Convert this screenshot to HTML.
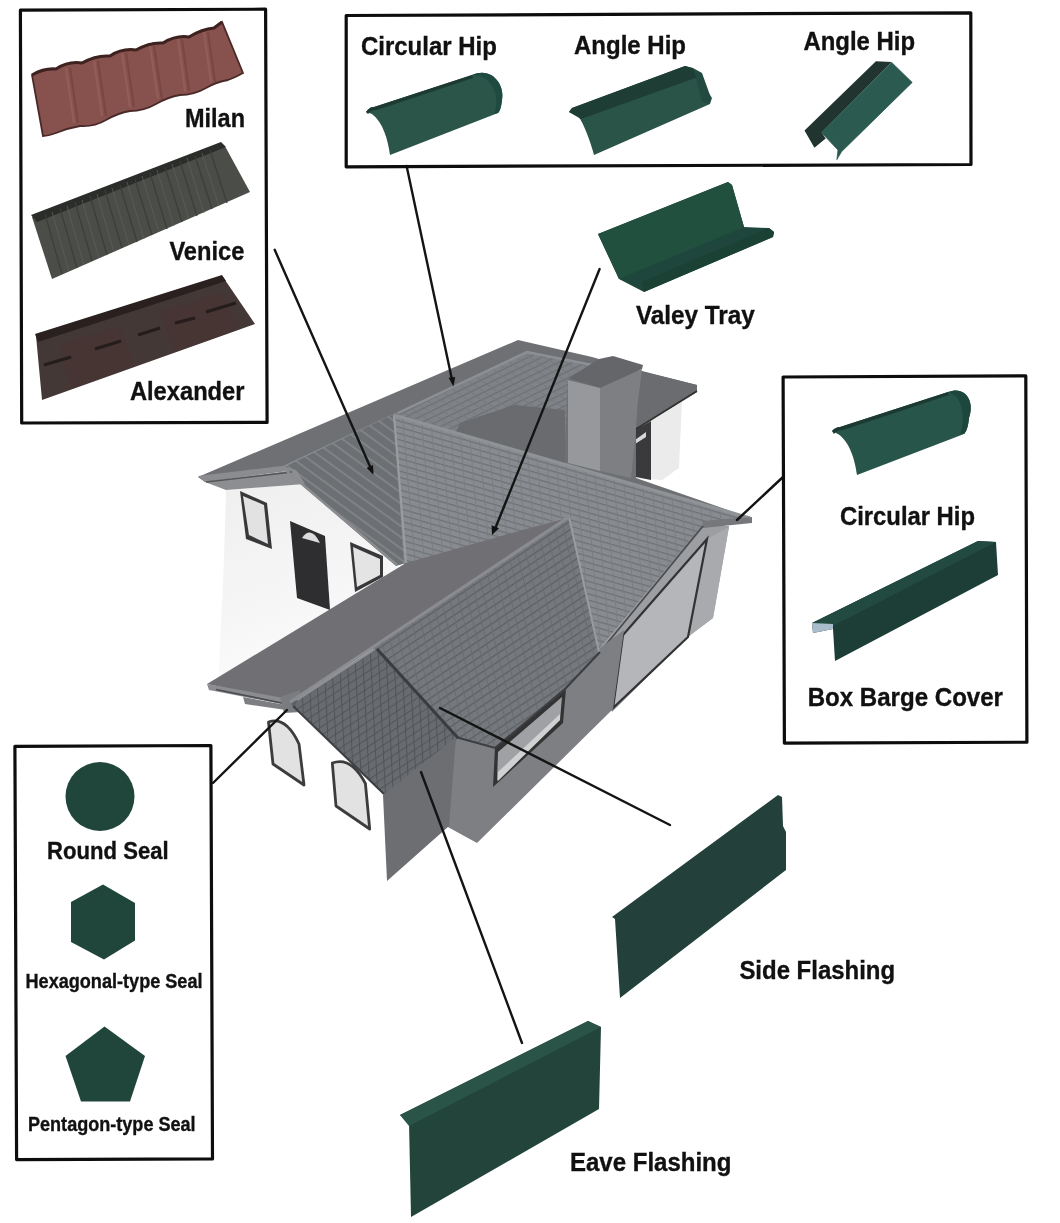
<!DOCTYPE html>
<html><head><meta charset="utf-8">
<style>
html,body{margin:0;padding:0;background:#fff;}
body{width:1060px;height:1223px;overflow:hidden;}
svg{display:block;filter:blur(0.6px);}
text{font-family:"Liberation Sans",sans-serif;font-weight:bold;fill:#111;stroke:#111;stroke-width:0.35px;}
</style></head><body>
<svg width="1060" height="1223" viewBox="0 0 1060 1223">
<rect x="0" y="0" width="1060" height="1223" fill="#ffffff"/>
<!-- HOUSE -->
<g id="house">
<defs>
<pattern id="meshA" width="10" height="6" patternUnits="userSpaceOnUse" patternTransform="rotate(16) skewX(21)">
<rect width="10" height="6" fill="#888b8f"/>
<path d="M0,0.6 H10" stroke="#6e7175" stroke-width="1.3"/>
<path d="M0.5,0 V6" stroke="#7a7d81" stroke-width="1"/>
</pattern>
<pattern id="meshB" width="9" height="7" patternUnits="userSpaceOnUse" patternTransform="rotate(-33.6) skewX(-20)">
<rect width="9" height="7" fill="#75787c"/>
<path d="M0,0.6 H9" stroke="#5c5f63" stroke-width="1.3"/>
<path d="M0.5,0 V7" stroke="#686b6f" stroke-width="1"/>
</pattern>
<pattern id="meshC" width="9" height="7" patternUnits="userSpaceOnUse" patternTransform="rotate(-33) skewX(-30)">
<rect width="9" height="7" fill="#686b6f"/>
<path d="M0,0.6 H9" stroke="#55585c" stroke-width="1.2"/>
<path d="M0.5,0 V7" stroke="#505357" stroke-width="1.3"/>
</pattern>
<pattern id="stripeP1" width="8" height="9" patternUnits="userSpaceOnUse" patternTransform="rotate(36)">
<rect width="8" height="9" fill="#6d7073"/>
<path d="M0,1 H8" stroke="#7f8286" stroke-width="2"/>
</pattern>
<pattern id="meshR" width="9" height="6" patternUnits="userSpaceOnUse" patternTransform="rotate(-26) skewX(30)">
<rect width="9" height="6" fill="#7f8286"/>
<path d="M0,0.6 H9" stroke="#6a6d71" stroke-width="1.1"/>
<path d="M0.5,0 V6" stroke="#75787c" stroke-width="1"/>
</pattern>
</defs>
<!-- back right wing wall + doorway -->
<polygon points="634,427 697,392 682,401 679,468 662,480 634,478" fill="#ebebeb"/>
<polygon points="631,432 651,421 651,480 631,476" fill="#3a3a3c"/>
<polygon points="635,440 646,432 646,437 635,444" fill="#d8d8d8"/>
<!-- back roof mass -->
<polygon points="198,477 518,340 592,357 644,372 697,385 697,392 636,429 636,478 751,518 398,418 290,467 205,482" fill="#6e7074"/>
<!-- mesh region R -->
<polygon points="396,417 527,352 592,364 568,379 564,464" fill="url(#meshR)"/>
<polygon points="455,434 460,423 514,405 565,410 565,466" fill="#696b6f"/>
<!-- ridge cap line -->
<polyline points="282,468 527,352 592,365" fill="none" stroke="#8c8f93" stroke-width="2.5"/>
<!-- chimney -->
<polygon points="569,378 599,359 613,356 643,365 642,369 600,388" fill="#64666a"/>
<polygon points="568,380 600,388 600,471 568,463" fill="#96989c"/>
<polygon points="600,388 642,369 636,430 631,478 600,471" fill="#7d7f83"/>
<!-- right wing roof -->
<polygon points="642,371 697,385 697,392 636,429 638,400" fill="#6a6c70"/>
<line x1="697" y1="391" x2="636" y2="429" stroke="#333" stroke-width="1.8"/>
<!-- left wing wall -->
<linearGradient id="wallG" x1="0" y1="0" x2="0.3" y2="1"><stop offset="0" stop-color="#efefef"/><stop offset="0.6" stop-color="#f6f6f6"/><stop offset="1" stop-color="#fdfdfd"/></linearGradient>
<polygon points="226,490 305,484 402,570 402,610 260,700 218,690 224,560" fill="url(#wallG)"/>
<!-- left wing windows/door -->
<polygon points="240,491 267,503 272,549 246,539" fill="#38383a"/>
<polygon points="243,496 264,505 268,544 249,535" fill="#e2e2e2"/>
<polygon points="290,521 325,536 330,610 297,598" fill="#2e2e30"/>
<path d="M302,538 Q311,525 320,543 Z" fill="#dcdcdc"/>
<polygon points="350,542 383,556 383,577 355,592" fill="#38383a"/>
<polygon points="353,547 380,559 380,575 357,587" fill="#e4e4e4"/>
<!-- P1 -->
<polygon points="282,468 398,412 406,563 396,566" fill="url(#stripeP1)"/>
<!-- left eave fascia -->
<polygon points="198,476 282,466 296,470 205,482" fill="#8a8c90"/>
<polygon points="205,482 296,470 305,484 226,490" fill="#8c8e92"/>
<line x1="206" y1="482" x2="292" y2="472" stroke="#555" stroke-width="1.5"/>
<line x1="282" y1="467" x2="397" y2="565" stroke="#8a8c90" stroke-width="2.5"/>
<!-- big mesh plane P2/P3 -->
<polygon points="394,415 748,517 752,522 703,527 600,655 569,517 404,566" fill="url(#meshA)"/>
<line x1="394" y1="415" x2="406" y2="563" stroke="#9a9da0" stroke-width="2.2"/>
<line x1="394" y1="415" x2="750" y2="518" stroke="#909396" stroke-width="3"/>
<!-- garage wing walls -->
<polygon points="703,525 729,526 713,618 690,635 612,712 598,650" fill="#9c9ea1"/>
<polygon points="707,539 729,527 713,618 688,637" fill="#a8aaae"/>
<polygon points="623,635 707,539 688,637 613,708" fill="#b4b6ba" stroke="#333" stroke-width="2.2"/>
<polygon points="703,521 752,517 752,523 703,528" fill="#75777b"/>
<line x1="703" y1="526" x2="600" y2="652" stroke="#4a4c50" stroke-width="1.8"/>
<!-- main right wall -->
<polygon points="450,733 495,745 566,685 599,649 624,630 613,709 477,843 446,826" fill="#7d7f82"/>
<polygon points="495,747 566,689 563,723 493,787" fill="#333"/>
<polygon points="498,752 562,697 560,720 497,781" fill="#9fa1a4"/>
<polygon points="498,781 560,720 560,714 498,772" fill="#cfd1d3"/>
<!-- P4 -->
<polygon points="207,684 406,563 569,517 290,702" fill="#707074"/>
<polygon points="207,684 289,699 292,706 209,690" fill="#8a8c90"/>
<line x1="216" y1="689.5" x2="284" y2="703.5" stroke="#4a4c50" stroke-width="1.6"/>
<polygon points="243,697 286,705 286,710 245,704" fill="#7c7e82"/>
<polygon points="280,697 300,690 302,712 284,713" fill="#7a7c80"/>
<!-- P5 -->
<polygon points="569,517 600,652 566,689 495,748 452,736 372,648 288,703" fill="url(#meshB)"/>
<line x1="569" y1="517" x2="599" y2="652" stroke="#9a9da0" stroke-width="2"/>
<polyline points="452,736 495,748 566,688 600,652" fill="none" stroke="#3c3e42" stroke-width="2"/>
<line x1="290" y1="702" x2="569" y2="517" stroke="#8a8c90" stroke-width="3.2"/>
<!-- porch roof -->
<polygon points="291,704 377,648 458,738 384,795" fill="url(#meshC)"/>
<line x1="293" y1="706" x2="384" y2="794" stroke="#3e4044" stroke-width="2.2"/>
<line x1="377" y1="649" x2="458" y2="738" stroke="#3a3c40" stroke-width="3"/>
<line x1="297" y1="700" x2="375" y2="649" stroke="#8c8e92" stroke-width="2.5"/>
<!-- arched windows -->
<path d="M273,764 L268.5,722 Q286,716 299,744 L304,785 Z" fill="#e2e2e2" stroke="#3c3c3e" stroke-width="2.8" stroke-linejoin="round"/>
<path d="M336,806 L332.3,763 Q351,756 365.4,783.5 L369.7,829 Z" fill="#e2e2e2" stroke="#3c3c3e" stroke-width="2.8" stroke-linejoin="round"/>
<!-- porch walls -->
<polygon points="383,795 456,737 449,826 387,881" fill="#6c6e72"/>
</g>
<!-- LEADER LINES -->
<g stroke="#141414" stroke-width="2.4" fill="none" stroke-linecap="round">
<line x1="274.7" y1="249.8" x2="372" y2="471"/>
<line x1="406.6" y1="166" x2="452.5" y2="382"/>
<line x1="599.6" y1="269" x2="495" y2="529"/>
<line x1="783" y1="477" x2="737" y2="520"/>
<line x1="213" y1="783" x2="287" y2="710"/>
<line x1="421" y1="772" x2="522" y2="1043"/>
<line x1="440" y1="708" x2="670" y2="825"/>
</g>
<g fill="#111">
<polygon points="373.5,474.7 366.6,467.9 373.0,465.1"/>
<polygon points="453.5,386.5 448.6,377.8 455.2,376.9"/>
<polygon points="492,535 491.6,525.2 499.0,528.2"/>
</g>
<!-- BOXES -->
<g fill="none" stroke="#0d0d0d" stroke-width="3.2" stroke-linejoin="round">
<polygon points="20.4,10.2 265.6,9.2 267.1,422.4 21.7,423"/>
<polygon points="346.2,15.5 970.8,12.8 971,164.5 346.2,166.8"/>
<polygon points="783.1,377 1025.8,375.9 1026.9,742.2 784.4,743.1"/>
<polygon points="14.9,746.4 210.9,745.5 212.5,1158.9 16.6,1159.6"/>
</g>
<!-- LABELS -->
<g>
<text x="185" y="127.4" font-size="25" textLength="60" lengthAdjust="spacingAndGlyphs">Milan</text>
<text x="169.4" y="259.9" font-size="25" textLength="75" lengthAdjust="spacingAndGlyphs">Venice</text>
<text x="129.9" y="399.5" font-size="25" textLength="114.6" lengthAdjust="spacingAndGlyphs">Alexander</text>
<text x="361" y="54.8" font-size="25.5" textLength="135.8" lengthAdjust="spacingAndGlyphs">Circular Hip</text>
<text x="574" y="54" font-size="25.5" textLength="112" lengthAdjust="spacingAndGlyphs">Angle Hip</text>
<text x="803.4" y="49.7" font-size="25.5" textLength="111.6" lengthAdjust="spacingAndGlyphs">Angle Hip</text>
<text x="635.9" y="324" font-size="25.5" textLength="119" lengthAdjust="spacingAndGlyphs">Valey Tray</text>
<text x="840" y="525" font-size="25.5" textLength="135" lengthAdjust="spacingAndGlyphs">Circular Hip</text>
<text x="807.7" y="706.3" font-size="25.5" textLength="195.3" lengthAdjust="spacingAndGlyphs">Box Barge Cover</text>
<text x="47.1" y="858.6" font-size="23.5" textLength="121.5" lengthAdjust="spacingAndGlyphs">Round Seal</text>
<text x="25.5" y="988.3" font-size="20" textLength="177" lengthAdjust="spacingAndGlyphs">Hexagonal-type Seal</text>
<text x="28" y="1130.9" font-size="20" textLength="167.6" lengthAdjust="spacingAndGlyphs">Pentagon-type Seal</text>
<text x="739.4" y="979.3" font-size="25.5" textLength="155.7" lengthAdjust="spacingAndGlyphs">Side Flashing</text>
<text x="570" y="1171.4" font-size="25.5" textLength="161.4" lengthAdjust="spacingAndGlyphs">Eave Flashing</text>
</g>
<!-- PRODUCTS -->
<g id="products">
<!-- Milan -->
<path d="M32,75 Q44,68 56,69 Q68,61 82,63 Q96,55 110,56 Q122,48 136,50 Q150,42 163,43 Q176,35 189,37 Q202,29 214,28 L222,22 L243,73 Q234,78 228,80 Q216,82 206,88 Q194,95 180,95 Q168,97 156,104 Q144,111 130,111 Q118,113 106,120 Q94,127 80,126 Q68,128 56,133 Q48,136 43,136 Z" fill="#87524e" stroke="#4a2a28" stroke-width="1.8"/>
<path d="M32,75 Q44,68 56,69 Q68,61 82,63 Q96,55 110,56 Q122,48 136,50 Q150,42 163,43 Q176,35 189,37 Q202,29 214,28 L222,22" fill="none" stroke="#3e2220" stroke-width="3"/>
<g stroke-width="2.2" opacity="0.55">
<line x1="66" y1="68" x2="74" y2="123" stroke="#9b6661"/><line x1="94" y1="61" x2="102" y2="116" stroke="#9b6661"/><line x1="122" y1="53" x2="130" y2="107" stroke="#9b6661"/><line x1="150" y1="46" x2="158" y2="99" stroke="#9b6661"/><line x1="178" y1="39" x2="185" y2="91" stroke="#9b6661"/><line x1="204" y1="32" x2="211" y2="82" stroke="#9b6661"/>
<line x1="70" y1="68" x2="78" y2="123" stroke="#6e3e3a"/><line x1="98" y1="61" x2="106" y2="116" stroke="#6e3e3a"/><line x1="126" y1="53" x2="134" y2="107" stroke="#6e3e3a"/><line x1="154" y1="46" x2="162" y2="99" stroke="#6e3e3a"/><line x1="182" y1="39" x2="189" y2="91" stroke="#6e3e3a"/><line x1="208" y1="32" x2="215" y2="82" stroke="#6e3e3a"/>
</g>
<!-- Venice -->
<path d="M32,217 L222,144 L226,148 L250,192 L52,279 Z" fill="#4b4e48"/>
<path d="M31,215 L221,142 L226,147 L37,222 Z" fill="#2a2d2a"/>
<g stroke="#3a3d38" stroke-width="1.3" opacity="0.9">
<line x1="45" y1="214" x2="62" y2="274"/><line x1="60" y1="208" x2="77" y2="268"/><line x1="75" y1="202" x2="92" y2="261"/><line x1="90" y1="196" x2="107" y2="255"/><line x1="105" y1="190" x2="122" y2="248"/><line x1="120" y1="185" x2="137" y2="242"/><line x1="135" y1="179" x2="152" y2="235"/><line x1="150" y1="173" x2="167" y2="229"/><line x1="165" y1="167" x2="182" y2="222"/><line x1="180" y1="161" x2="197" y2="216"/><line x1="195" y1="156" x2="212" y2="209"/><line x1="210" y1="150" x2="227" y2="203"/>
</g>
<g stroke="#5c6059" stroke-width="1" opacity="0.8">
<line x1="52" y1="212" x2="69" y2="271"/><line x1="67" y1="206" x2="84" y2="265"/><line x1="82" y1="200" x2="99" y2="258"/><line x1="97" y1="194" x2="114" y2="252"/><line x1="112" y1="188" x2="129" y2="245"/><line x1="127" y1="182" x2="144" y2="239"/><line x1="142" y1="176" x2="159" y2="232"/><line x1="157" y1="170" x2="174" y2="226"/><line x1="172" y1="164" x2="189" y2="219"/><line x1="187" y1="158" x2="204" y2="213"/><line x1="202" y1="153" x2="219" y2="206"/>
</g>
<!-- Alexander -->
<path d="M36,336 L223,277 L255,324 L42,400 Z" fill="#433836"/>
<path d="M35,334 L222,275 L226,281 L38,342 Z" fill="#2a201f"/>
<polygon points="60,345 120,326 135,366 70,389" fill="#4a3432" opacity="0.6"/>
<polygon points="160,312 222,293 240,329 175,352" fill="#4a3432" opacity="0.6"/>
<g stroke="#1e1716" stroke-width="3.2" opacity="0.8">
<line x1="95" y1="349" x2="121" y2="341"/><line x1="138" y1="335" x2="160" y2="328"/><line x1="175" y1="323" x2="195" y2="318"/><line x1="206" y1="312" x2="236" y2="303"/><line x1="44" y1="365" x2="71" y2="357"/>
</g>
<!-- Circular Hip top -->
<path d="M366,112 C369,108 371,107 374,107 L472,75 C492,66 505,85 502,100 C501,108 500,111 498,113 L390,155 C388,140 383,122 372,114 Z" fill="#2c554a"/>
<path d="M366,112 C369,108 371,107 374,107 L472,75 L473,78 L377,110 C373,110 370,111 368,114 Z" fill="#1c3a32"/>
<path d="M472,75 C492,66 505,85 502,100 C501,108 500,111 498,113 L494,114 C500,100 495,82 480,76 Z" fill="#1f4a3f"/>
<!-- Angle Hip 1 -->
<path d="M569,112 L572,108 L685,66 L692,68 L712,98 L710,104 L594,155 C590,140 584,124 578,116 Z" fill="#2a5448"/>
<path d="M569,112 L572,108 L685,66 L693,68 L698,77 L581,119 Z" fill="#1d3d35"/>
<path d="M693,68 L702,73 L711,98 L709,104 L702,102 L696,78 Z" fill="#234a40"/>
<!-- Angle Hip 2 -->
<path d="M804.5,130.6 L875.9,61.2 L891.7,62 L821.7,132.5 L825.7,138.5 L814.4,147.7 Z" fill="#21342f"/>
<path d="M891.7,62.5 L912.2,82.4 L841.5,151.7 L836.9,159.6 L838,150 L828.3,139.8 L821.7,132.5 Z" fill="#2a5a50" stroke="#2a5a50" stroke-width="0.8"/>
<!-- Valley Tray -->
<path d="M598,234 L728,182 L732,185 L744,227 L769,228 L774,232 L773,237 L644,292 L619,279 Z" fill="#1e463c"/>
<path d="M598,234 L728,182 L732,185 L744,227 L619,279 Z" fill="#22503f"/>
<path d="M642,282 L769,228 L774,232 L773,237 L644,292 Z" fill="#1b4034"/>
<!-- Circular Hip right -->
<path d="M832,431 C835,428 837,427 840,427 L948,392 C966,385 975,402 969,418 C968,428 966,432 964,434 L857,475 C855,460 850,442 838,434 Z" fill="#27554a"/>
<path d="M832,431 C835,428 837,427 840,427 L948,392 L949,395 L843,430 C839,430 836,431 834,434 Z" fill="#1c3a32"/>
<path d="M948,392 C966,385 975,402 969,418 C968,428 966,432 964,434 L960,434 C966,420 962,400 954,395 Z" fill="#1d463c"/>
<!-- Box Barge Cover -->
<path d="M812,623 L978,541 L996,542 L998,575 L835,661 L833,629 L813,633 Z" fill="#1c3e36"/>
<path d="M812,623 L978,541 L996,542 L833,626 Z" fill="#224a40"/>
<path d="M812,623 L833,624 L833,629 L813,633 Z" fill="#a9bccb"/>
<!-- Seals -->
<circle cx="100" cy="796.5" r="34.5" fill="#20463c"/>
<polygon points="103,884.5 135,903 135,940.5 104,959.5 71,942 71,902" fill="#20463c"/>
<polygon points="104.5,1026.5 145,1056 130,1101.5 81,1101.5 65.5,1056" fill="#20463c"/>
<!-- Side Flashing -->
<path d="M612,917 L778,795 L782,797 L783,826 L786,832 L786,870 L620,998 L615,919 Z" fill="#23413a"/>
<!-- Eave Flashing -->
<path d="M400,1115 L588,1021 L601,1027 L599,1109 L411,1217 L409,1122 Z" fill="#23443b"/>
<path d="M400,1115 L588,1021 L601,1027 L409,1126 Z" fill="#2a5448"/>
</g>
</svg>
</body></html>
